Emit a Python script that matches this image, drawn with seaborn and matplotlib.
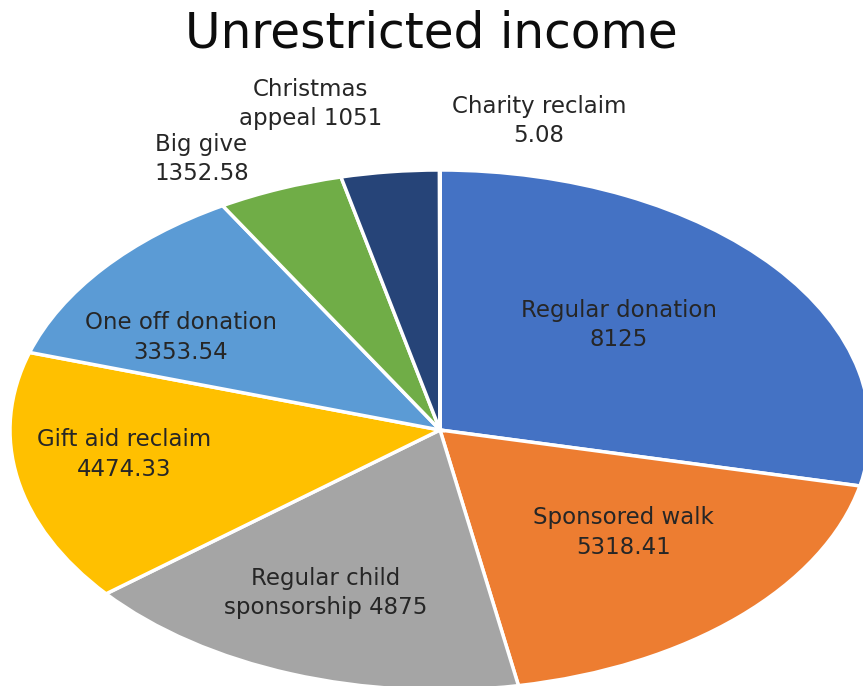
import numpy as np
import matplotlib
matplotlib.use('Agg')
import matplotlib.pyplot as plt
import seaborn as sns

# data
categories = ['Regular donation', 'Sponsored walk', 'Regular child\nsponsorship',
              'Gift aid reclaim', 'One off donation', 'Big give',
              'Christmas\nappeal', 'Charity reclaim']
values = [8125, 5318.41, 4875, 4474.33, 3353.54, 1352.58, 1051, 5.08]
value_text = ['8125', '5318.41', '4875', '4474.33', '3353.54', '1352.58', '1051', '5.08']

sns.set_theme(style='white')
plt.rcParams['font.family'] = ['DejaVu Sans']

colors = ['#4472C4', '#ED7D31', '#A5A5A5', '#FFC000', '#5B9BD5', '#70AD47', '#264478', '#9E480E']

fig = plt.figure(figsize=(8.63, 6.86), dpi=100)
ax = fig.add_axes([0, 0, 1, 1])

wedges, _ = ax.pie(values, colors=colors, startangle=90, counterclock=False,
                   wedgeprops=dict(edgecolor='white', linewidth=2.5))
ax.set_aspect('auto')
# pie centre at (440, 430) px, radii 430 x 260 px
ax.set_xlim(-440 / 430, (863 - 440) / 430)
ax.set_ylim((430 - 686) / 260, 430 / 260)
ax.axis('off')

# label placement: distance from centre and angle nudge (degrees)
label_dist = [0.58, 0.58, 0.68, 0.74, 0.70, 1.18, 1.29, 1.21]
label_nudge = [5.5, 3.2, -2.8, -3.5, 7.9, 6.2, 6.8, -11.0]
two_line = {'Regular child\nsponsorship': 'Regular child\nsponsorship 4875',
            'Christmas\nappeal': 'Christmas\nappeal 1051'}

for w, cat, vt, d, nud in zip(wedges, categories, value_text, label_dist, label_nudge):
    mid = np.deg2rad((w.theta1 + w.theta2) / 2 + nud)
    txt = two_line.get(cat, cat + '\n' + vt)
    ax.text(d * np.cos(mid), d * np.sin(mid), txt, ha='center', va='center',
            fontsize=16.5, color='#262626', linespacing=1.35)

fig.text(0.5, 0.951, 'Unrestricted income', ha='center', va='center',
         fontsize=35, color='#0d0d0d')

fig.savefig('out.png', dpi=100)
